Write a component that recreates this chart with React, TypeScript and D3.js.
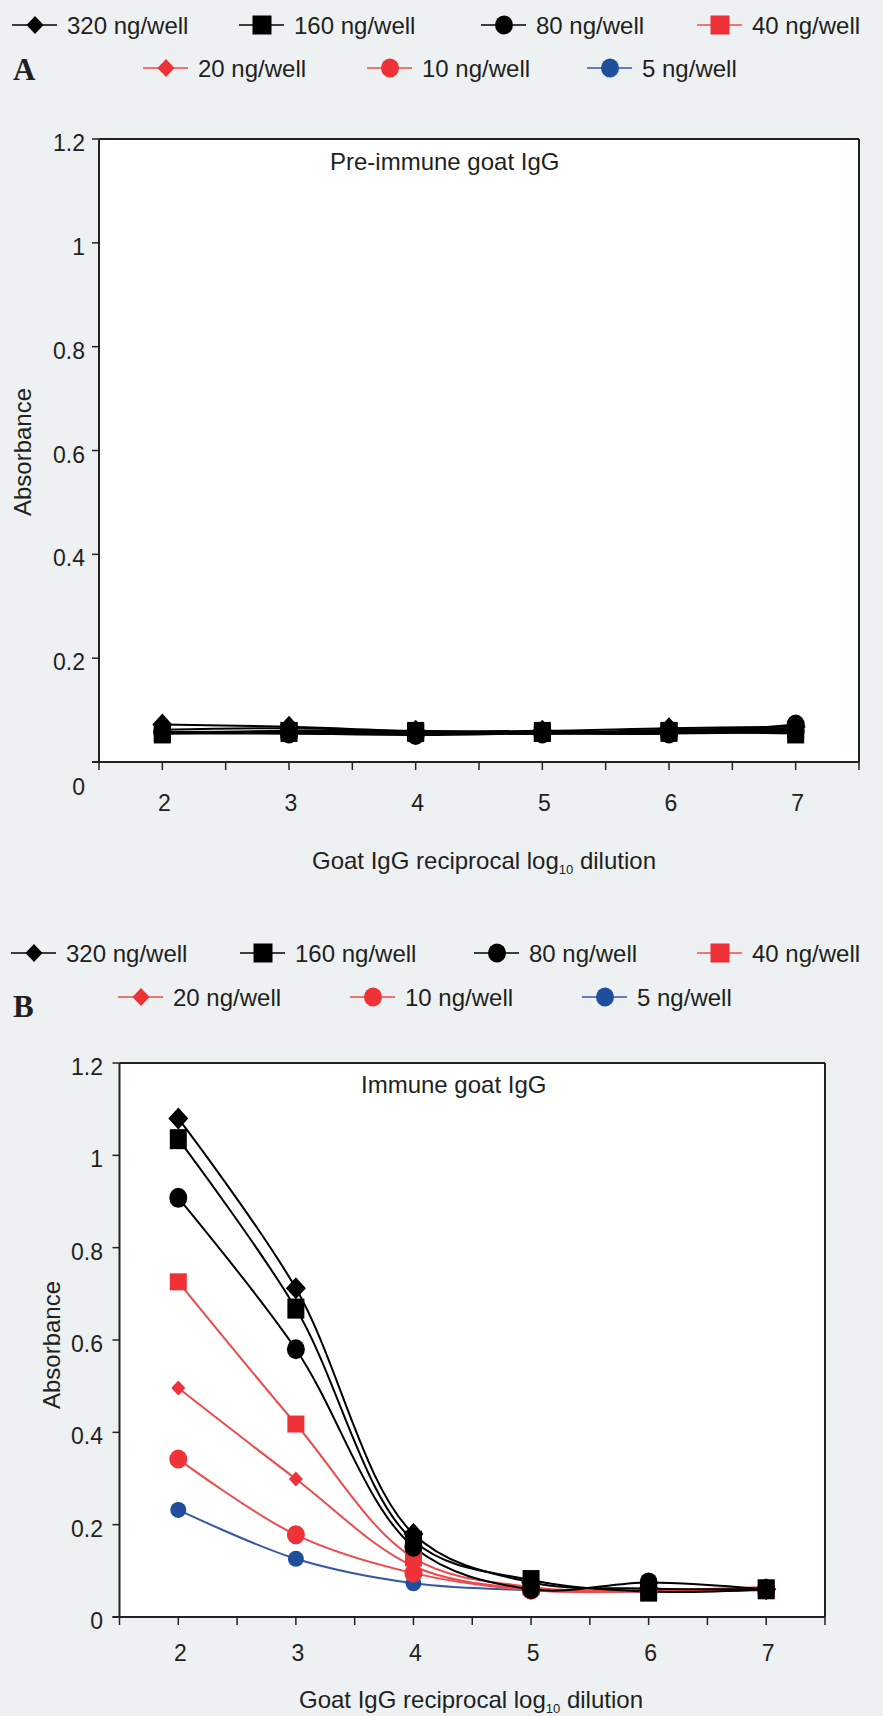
import React from "react";
import * as d3 from "d3";

// ---------- DATA ----------
const dilutions = [2, 3, 4, 5, 6, 7];
const xTickLabels = ["2", "3", "4", "5", "6", "7"];
const yTicks = [0, 0.2, 0.4, 0.6, 0.8, 1, 1.2];
const yTickLabels = ["0", "0.2", "0.4", "0.6", "0.8", "1", "1.2"];
const seriesLabels = ["320 ng/well", "160 ng/well", "80 ng/well", "40 ng/well", "20 ng/well", "10 ng/well", "5 ng/well"];

// Panel A: pre-immune goat IgG
const pre320 = [0.072, 0.068, 0.06, 0.06, 0.065, 0.068];
const pre160 = [0.055, 0.058, 0.058, 0.058, 0.058, 0.055];
const pre80 = [0.058, 0.055, 0.052, 0.055, 0.055, 0.072];
const pre40 = [0.055, 0.06, 0.058, 0.055, 0.06, 0.062];
const pre20 = [0.062, 0.065, 0.058, 0.055, 0.062, 0.065];
const pre10 = [0.058, 0.058, 0.055, 0.058, 0.058, 0.06];
const pre5 = [0.055, 0.055, 0.055, 0.055, 0.055, 0.058];

// Panel B: immune goat IgG
const imm320 = [1.08, 0.712, 0.18, 0.075, 0.062, 0.06];
const imm160 = [1.035, 0.668, 0.165, 0.08, 0.055, 0.06];
const imm80 = [0.908, 0.58, 0.152, 0.06, 0.075, 0.06];
const imm40 = [0.726, 0.418, 0.128, 0.065, 0.058, 0.062];
const imm20 = [0.496, 0.299, 0.11, 0.06, 0.058, 0.065];
const imm10 = [0.342, 0.178, 0.095, 0.058, 0.055, 0.062];
const imm5 = [0.232, 0.126, 0.073, 0.058, 0.055, 0.058];

const preSeries = [pre320, pre160, pre80, pre40, pre20, pre10, pre5];
const immSeries = [imm320, imm160, imm80, imm40, imm20, imm10, imm5];

// ---------- STYLE ----------
const BG = "#edf1f2";
const TXT = "#231f20";
const RED = "#ee3237";
const RED_LINE = "#ef4a4c";
const BLUE = "#1f4e9c";
const BLUE_LINE = "#3559a6";
const FONT = "'Liberation Sans', Arial, sans-serif";

type Shape = "diamond" | "square" | "circle";
const shapes: Shape[] = ["diamond", "square", "circle", "square", "diamond", "circle", "circle"];
const markerColors = ["#000", "#000", "#000", RED, RED, RED, BLUE];
const lineColors = ["#000", "#000", "#000", RED_LINE, RED_LINE, RED_LINE, BLUE_LINE];
// half-width, half-height of markers in plots
const markerSizes: [number, number][] = [
  [10, 11], [8.5, 10], [9, 10], [8.5, 8.5], [7, 7.5], [9, 9.5], [8, 8],
];

function Marker({ shape, cx, cy, w, h, fill }: { shape: Shape; cx: number; cy: number; w: number; h: number; fill: string }) {
  if (shape === "diamond")
    return <path d={`M${cx},${cy - h}L${cx + w},${cy}L${cx},${cy + h}L${cx - w},${cy}Z`} fill={fill} />;
  if (shape === "square") return <rect x={cx - w} y={cy - h} width={2 * w} height={2 * h} fill={fill} />;
  return <ellipse cx={cx} cy={cy} rx={w} ry={h} fill={fill} />;
}

type Layout = {
  x0: number; x1: number; yTop: number; yBot: number;
  yLabelRight: number; zeroLabelDy: number; xLabelY: number;
  titleX: number; titleY: number; title: string;
  axisTitleX: number; axisTitleY: number;
  yTitleX: number; yTitleY: number;
  allBlack: boolean;
};

function Panel({ series, L }: { series: number[][]; L: Layout }) {
  const x = d3.scaleLinear().domain([1.5, 7.5]).range([L.x0, L.x1]);
  const y = d3.scaleLinear().domain([0, 1.2]).range([L.yBot, L.yTop]);
  const line = d3
    .line<number>()
    .x((_, i) => x(dilutions[i]))
    .y((d) => y(d))
    .curve(d3.curveCatmullRom.alpha(0.5));
  const xMinor = d3.range(1.5, 7.51, 0.5);
  const order = d3.range(series.length).reverse();
  return (
    <g>
      <rect x={L.x0} y={L.yTop} width={L.x1 - L.x0} height={L.yBot - L.yTop} fill="#fff" />
      {order.map((si) => (
        <path key={"l" + si} d={line(series[si]) || ""} fill="none"
          stroke={L.allBlack ? "#000" : lineColors[si]} strokeWidth={2} />
      ))}
      {order.map((si) =>
        series[si].map((v, i) => (
          <Marker key={"m" + si + "-" + i} shape={shapes[si]} cx={x(dilutions[i])} cy={y(v)}
            w={markerSizes[si][0]} h={markerSizes[si][1]} fill={L.allBlack ? "#000" : markerColors[si]} />
        ))
      )}
      <line x1={L.x0} x2={L.x1} y1={L.yTop} y2={L.yTop} stroke="#222" strokeWidth={2} />
      <line x1={L.x1} x2={L.x1} y1={L.yTop} y2={L.yBot} stroke="#222" strokeWidth={2} />
      <line x1={L.x0} x2={L.x0} y1={L.yTop} y2={L.yBot} stroke="#222" strokeWidth={2} />
      <line x1={L.x0 - 7} x2={L.x1} y1={L.yBot} y2={L.yBot} stroke="#222" strokeWidth={2} />
      {yTicks.map((t, i) => (
        <g key={"yt" + i}>
          <line x1={L.x0 - 7} x2={L.x0} y1={y(t)} y2={y(t)} stroke="#222" strokeWidth={1.5} />
          <text x={L.yLabelRight} y={y(t) + 12 + (t === 0 ? L.zeroLabelDy : 0)} textAnchor="end"
            fontFamily={FONT} fontSize={23} fill={TXT}>{yTickLabels[i]}</text>
        </g>
      ))}
      {xMinor.map((t, i) => (
        <line key={"xt" + i} x1={x(t)} x2={x(t)} y1={L.yBot} y2={L.yBot + 8} stroke="#222" strokeWidth={1.5} />
      ))}
      {dilutions.map((d, i) => (
        <text key={"xl" + i} x={x(d) + 2} y={L.xLabelY} textAnchor="middle" fontFamily={FONT}
          fontSize={23} fill={TXT}>{xTickLabels[i]}</text>
      ))}
      <text x={L.titleX} y={L.titleY} fontFamily={FONT} fontSize={24} fill={TXT}>{L.title}</text>
      <text x={L.axisTitleX} y={L.axisTitleY} textAnchor="middle" fontFamily={FONT} fontSize={24} fill={TXT}>
        Goat IgG reciprocal log<tspan fontSize={13} dy={5}>10</tspan><tspan dy={-5}> dilution</tspan>
      </text>
      <text transform={`translate(${L.yTitleX},${L.yTitleY}) rotate(-90)`} textAnchor="middle"
        fontFamily={FONT} fontSize={24} fill={TXT}>Absorbance</text>
    </g>
  );
}

type LegendPos = { mx: number; row: number };
function Legend({ pos, rowY, letter, letterY }: { pos: LegendPos[]; rowY: number[]; letter: string; letterY: number }) {
  const legendSizes: [number, number][] = [[8.5, 9], [9.5, 9.5], [9, 9.5], [9.5, 9.5], [8.5, 9], [9, 9.5], [9, 9.5]];
  return (
    <g>
      {pos.map((p, i) => {
        const cy = rowY[p.row];
        return (
          <g key={"lg" + i}>
            <line x1={p.mx - 23} x2={p.mx + 22} y1={cy} y2={cy} stroke={lineColors[i]} strokeWidth={1.6} />
            <Marker shape={shapes[i]} cx={p.mx} cy={cy} w={legendSizes[i][0]} h={legendSizes[i][1]} fill={markerColors[i]} />
            <text x={p.mx + 32} y={cy + 8.5} fontFamily={FONT} fontSize={24} fill={TXT}>{seriesLabels[i]}</text>
          </g>
        );
      })}
      <text x={13} y={letterY} fontFamily="'Liberation Serif', 'Times New Roman', serif" fontWeight="bold"
        fontSize={31} fill={TXT}>{letter}</text>
    </g>
  );
}

const legendA: LegendPos[] = [
  { mx: 35, row: 0 }, { mx: 262, row: 0 }, { mx: 504, row: 0 }, { mx: 720, row: 0 },
  { mx: 166, row: 1 }, { mx: 390, row: 1 }, { mx: 610, row: 1 },
];
const legendB: LegendPos[] = [
  { mx: 34, row: 0 }, { mx: 263, row: 0 }, { mx: 497, row: 0 }, { mx: 720, row: 0 },
  { mx: 141, row: 1 }, { mx: 373, row: 1 }, { mx: 605, row: 1 },
];

const layoutA: Layout = {
  x0: 99, x1: 859, yTop: 139, yBot: 762, yLabelRight: 85, zeroLabelDy: 21, xLabelY: 811,
  titleX: 330, titleY: 170, title: "Pre-immune goat IgG", axisTitleX: 484, axisTitleY: 869,
  yTitleX: 31, yTitleY: 452, allBlack: true,
};
const layoutB: Layout = {
  x0: 119.5, x1: 825, yTop: 1063, yBot: 1617, yLabelRight: 103, zeroLabelDy: 0, xLabelY: 1661,
  titleX: 361, titleY: 1093, title: "Immune goat IgG", axisTitleX: 471, axisTitleY: 1708,
  yTitleX: 60, yTitleY: 1345, allBlack: false,
};

export default function App() {
  return (
    <svg width={883} height={1716} style={{ position: "absolute", left: 0, top: 0, display: "block" }}>
      <rect x={0} y={0} width={883} height={1716} fill={BG} />
      <Legend pos={legendA} rowY={[25, 68]} letter="A" letterY={80} />
      <Panel series={preSeries} L={layoutA} />
      <Legend pos={legendB} rowY={[953, 997]} letter="B" letterY={1017} />
      <Panel series={immSeries} L={layoutB} />
    </svg>
  );
}
